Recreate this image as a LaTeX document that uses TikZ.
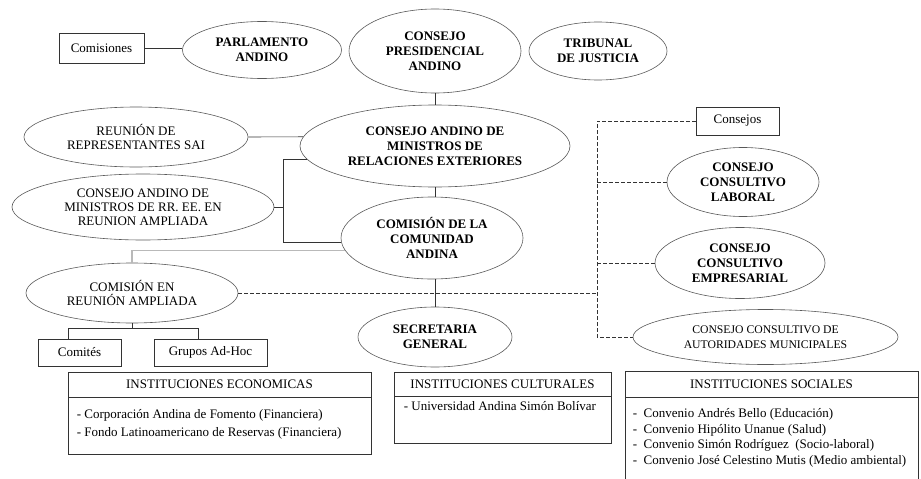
\documentclass[tikz,border=0pt]{standalone}
\usepackage{fontspec}
\setmainfont{Liberation Serif}
\usetikzlibrary{shapes.geometric, positioning}

\begin{document}
\begin{tikzpicture}[
  x=1pt, y=-1pt,
  ell/.style={ellipse, draw=black!65, line width=0.6pt, inner sep=0pt, align=center,
              font=\fontsize{13}{15}\selectfont\bfseries},
  ellr/.style={ell, font=\fontsize{13}{14.5}\selectfont},
  box/.style={draw=black!80, line width=0.6pt, inner sep=0pt, font=\fontsize{13}{15}\selectfont},
  frm/.style={draw=black!80, line width=0.6pt, inner sep=0pt},
  hdr/.style={frm, font=\fontsize{13}{15}\selectfont},
  lst/.style={align=left, inner sep=0pt, font=\fontsize{13}{#1}\selectfont},
  ln/.style={draw=black!80, line width=0.6pt},
  dln/.style={ln, dash pattern=on 3.5pt off 2.5pt},
  gln/.style={draw=gray!55, line width=1.2pt}
]
\useasboundingbox (0,0) rectangle (921,479);
\clip (0,0) rectangle (921,479);

% top row
\node[box, minimum width=85pt, minimum height=30pt] (comis) at (101.5,48) {Comisiones};
\node[ell, minimum width=159pt, minimum height=57pt] (parl) at (262,50) {PARLAMENTO\\ANDINO};
\node[ell, minimum width=172pt, minimum height=84pt] (cpa)  at (435,51) {CONSEJO\\PRESIDENCIAL\\ANDINO};
\node[ell, minimum width=138pt, minimum height=58pt] (trib) at (598,51) {TRIBUNAL\\DE JUSTICIA};

% central column
\node[ell, minimum width=270pt, minimum height=82pt] (camre) at (435,146) {CONSEJO ANDINO DE\\MINISTROS DE\\RELACIONES EXTERIORES};
\node[ell, minimum width=182pt, minimum height=82pt] (ccan)  at (432,238) {COMISIÓN DE LA\\COMUNIDAD\\ANDINA};
\node[ell, minimum width=154pt, minimum height=60pt] (sec)   at (435,337) {SECRETARIA\\GENERAL};

% left column
\node[ellr, minimum width=224pt, minimum height=60pt] (sai)  at (136,137) {REUNIÓN DE\\REPRESENTANTES SAI};
\node[ellr, minimum width=262pt, minimum height=66pt, font=\fontsize{13}{14}\selectfont] (ampl) at (143,207) {CONSEJO ANDINO DE\\MINISTROS DE RR. EE. EN\\REUNION AMPLIADA};
\node[ellr, minimum width=212pt, minimum height=60pt] (cra)  at (132,293) {COMISIÓN EN\\REUNIÓN AMPLIADA};
\node[box, minimum width=83pt, minimum height=27pt]  (comi) at (79.5,352.5) {Comités};
\node[box, minimum width=113pt, minimum height=27pt] (grup) at (210.5,352.5) {Grupos Ad-Hoc};

% consultive bodies
\node[box, minimum width=83pt, minimum height=28pt] (cons) at (737.5,121) {Consejos};
\node[ell, minimum width=152pt, minimum height=69pt] (lab)  at (743,182) {CONSEJO\\CONSULTIVO\\LABORAL};
\node[ell, minimum width=170pt, minimum height=71pt] (emp)  at (740,263) {CONSEJO\\CONSULTIVO\\EMPRESARIAL};
\node[ellr, minimum width=265pt, minimum height=55pt, font=\fontsize{11.7}{14.5}\selectfont] (muni) at (765.5,337) {CONSEJO CONSULTIVO DE\\AUTORIDADES MUNICIPALES};

% institutions
\node[hdr, minimum width=303pt, minimum height=25pt] (ecoh) at (219.5,384.5) {INSTITUCIONES ECONOMICAS};
\node[frm, minimum width=303pt, minimum height=57pt, below=0pt of ecoh] (ecob) {};
\node[lst=17.7, below right=12pt and 9pt of ecob.north west] (ecot)
  {- Corporación Andina de Fomento (Financiera)\\- Fondo Latinoamericano de Reservas (Financiera)};
\node[hdr, minimum width=217pt, minimum height=24pt] (culh) at (502.5,384) {INSTITUCIONES CULTURALES};
\node[frm, minimum width=217pt, minimum height=47pt, below=0pt of culh] (culb) {};
\node[lst=15, below right=5pt and 10pt of culb.north west] (cult) {- Universidad Andina Simón Bolívar};
\node[hdr, minimum width=293pt, minimum height=26pt] (soch) at (771.5,384) {INSTITUCIONES SOCIALES};
\node[frm, minimum width=293pt, minimum height=110pt, below=0pt of soch] (socb) {};
\node[lst=15.6, below right=11pt and 8pt of socb.north west] (soct)
  {-\ \ Convenio Andrés Bello (Educación)\\
   -\ \ Convenio Hipólito Unanue (Salud)\\
   -\ \ Convenio Simón Rodríguez\ \ (Socio-laboral)\\
   -\ \ Convenio José Celestino Mutis (Medio ambiental)};

% connectors
\coordinate (spine)  at (283,0);
\coordinate (dspine) at (597,0);
\coordinate (tl) at (68,328);
\coordinate (tr) at (198,328);

\draw[ln] (comis.east) -- (comis.east -| parl.west);
\draw[ln] (cpa) -- (camre);
\draw[ln] (camre) -- (ccan.north -| camre);
\draw[ln] (ccan.south -| sec) -- (sec);
\draw[ln] (sai.east) -- (camre.176);
\draw[ln] (camre.186) -- (camre.186 -| spine) -- (ccan.183 -| spine) -- (ccan.183);
\draw[ln] (ampl.east) -- (ampl.east -| spine);
\draw[gln] (ccan.188) -| (cra.north);
\draw[ln] (cra.south) -- (cra.south |- tl);
\draw[ln] (tl |- comi.north) -- (tl) -- (tr) -- (tr |- grup.north);

\draw[dln] (cons.west) -- (cons.west -| dspine) -- (muni.west -| dspine) -- (muni.west);
\draw[dln] (lab.west) -- (lab.west -| dspine);
\draw[dln] (emp.west) -- (emp.west -| dspine);
\draw[dln] (cra.east) -- (cra.east -| dspine);
\end{tikzpicture}
\end{document}
